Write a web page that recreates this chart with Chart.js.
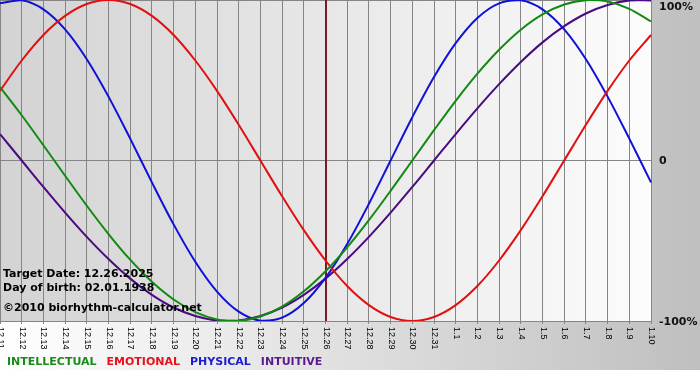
<!DOCTYPE html>
<html>
<head>
<meta charset="utf-8">
<script src="https://cdn.jsdelivr.net/npm/chart.js@4/dist/chart.umd.min.js"></script>
<style>
  html, body { margin: 0; padding: 0; background: #fff; }
  canvas { display: block; }
</style>
</head>
<body>
<canvas id="bio" width="700" height="380"></canvas>
<script>
// ===== Data =====
const dayLabels = ['12.11', '12.12', '12.13', '12.14', '12.15', '12.16', '12.17', '12.18', '12.19', '12.20',
  '12.21', '12.22', '12.23', '12.24', '12.25', '12.26', '12.27', '12.28', '12.29', '12.30', '12.31',
  '1.1', '1.2', '1.3', '1.4', '1.5', '1.6', '1.7', '1.8', '1.9', '1.10'];

const intellectual = [45.8, 28.2, 9.5, -9.5, -28.2, -45.8, -61.8, -75.6, -86.6, -94.5, -99.0, -99.9,
  -97.2, -91.0, -81.5, -69.0, -54.1, -37.2, -18.9, 0, 18.9, 37.2, 54.1, 69.0, 81.5, 91.0, 97.2,
  99.9, 99.0, 94.5, 86.6];
const emotional = [43.4, 62.3, 78.2, 90.1, 97.5, 100, 97.5, 90.1, 78.2, 62.3, 43.4, 22.3, 0, -22.3,
  -43.4, -62.3, -78.2, -90.1, -97.5, -100, -97.5, -90.1, -78.2, -62.3, -43.4, -22.3, 0, 22.3, 43.4,
  62.3, 78.2];
const physical = [97.9, 99.8, 94.2, 81.7, 63.1, 39.8, 13.6, -13.6, -39.8, -63.1, -81.7, -94.2, -99.8,
  -97.9, -88.8, -73.1, -52.0, -27.0, 0, 27.0, 52.0, 73.1, 88.8, 97.9, 99.8, 94.2, 81.7, 63.1, 39.8,
  13.6, -13.6];
const intuitive = [16.5, 0, -16.5, -32.5, -47.6, -61.4, -73.6, -83.7, -91.6, -96.9, -99.7, -99.7,
  -96.9, -91.6, -83.7, -73.6, -61.4, -47.6, -32.5, -16.5, 0, 16.5, 32.5, 47.6, 61.4, 73.6, 83.7,
  91.6, 96.9, 99.7, 99.7];

const seriesNames = ['INTELLECTUAL', 'EMOTIONAL', 'PHYSICAL', 'INTUITIVE'];
const infoLines = ['Target Date: 12.26.2025', 'Day of birth: 02.01.1938', '\u00a92010 biorhythm-calculator.net'];
const targetDay = '12.26';

const GRID = '#858585';
const BOLD = 'bold 11px "DejaVu Sans", Verdana, sans-serif';

// backgrounds, target line, all the text
const bioPlugin = {
  id: 'bio',
  beforeDraw(chart) {
    const { ctx, chartArea: a, width, height } = chart;
    ctx.save();
    const outer = ctx.createLinearGradient(0, 0, width, 0);
    outer.addColorStop(0, '#ffffff');
    outer.addColorStop(1, '#bfbfbf');
    ctx.fillStyle = outer;
    ctx.fillRect(0, 0, width, height);
    ctx.fillStyle = '#ffffff';
    ctx.fillRect(0, 370, width, height - 370);

    const inner = ctx.createLinearGradient(a.left, 0, a.right, 0);
    inner.addColorStop(0, '#d3d3d3');
    inner.addColorStop(1, '#fcfcfc');
    ctx.fillStyle = inner;
    ctx.fillRect(a.left, a.top, a.right - a.left, a.bottom - a.top);
    ctx.restore();
  },
  beforeDatasetsDraw(chart) {
    const { ctx, chartArea: a, scales } = chart;
    const x = Math.round(scales.x.getPixelForValue(dayLabels.indexOf(targetDay)));
    ctx.save();
    ctx.fillStyle = '#7c1c1c';
    ctx.fillRect(x - 1, a.top, 2, a.bottom - a.top);
    ctx.restore();
  },
  afterDraw(chart) {
    const { ctx, chartArea: a, scales } = chart;
    ctx.save();

    // x tick labels, turned clockwise
    ctx.font = '9px "Liberation Sans", Arial, sans-serif';
    ctx.fillStyle = '#000';
    ctx.textAlign = 'left';
    ctx.textBaseline = 'middle';
    dayLabels.forEach((lab, i) => {
      const x = scales.x.getPixelForValue(i);
      ctx.save();
      ctx.translate(x + 0.5, a.bottom + 6);
      ctx.rotate(Math.PI / 2);
      ctx.fillText(lab, 0, 0);
      ctx.restore();
    });

    // y tick labels
    ctx.font = BOLD;
    ctx.fillStyle = '#111';
    scales.y.ticks.forEach(t => {
      const y = Math.max(scales.y.getPixelForValue(t.value) + 1, 7);
      ctx.fillText(t.value === 0 ? '0' : t.value + '%', a.right + 8, y);
    });

    // info block
    ctx.textBaseline = 'alphabetic';
    ctx.fillStyle = '#000';
    ctx.fillText(infoLines[0], 3, 277);
    ctx.fillText(infoLines[1], 3, 291);
    ctx.fillText(infoLines[2], 3, 311);

    // legend
    let lx = 7;
    chart.data.datasets.forEach(ds => {
      ctx.fillStyle = ds.textColor;
      ctx.fillText(ds.label, lx, 365);
      lx += ctx.measureText(ds.label).width + 10;
    });
    ctx.restore();
  }
};

function makeSet(label, data, color, textColor) {
  return {
    label,
    data,
    borderColor: color,
    textColor,
    borderWidth: 2,
    pointRadius: 0,
    tension: 0.33,
    fill: false,
  };
}

new Chart(document.getElementById('bio'), {
  type: 'line',
  data: {
    labels: dayLabels,
    datasets: [
      makeSet(seriesNames[0], intellectual, '#128a12', '#1a8a1a'),
      makeSet(seriesNames[1], emotional, '#e01010', '#e8101a'),
      makeSet(seriesNames[2], physical, '#1010d8', '#1c1cd0'),
      makeSet(seriesNames[3], intuitive, '#4a0a80', '#5a1a8c'),
    ],
  },
  options: {
    responsive: false,
    animation: false,
    layout: { padding: 0 },
    plugins: {
      legend: { display: false },
      tooltip: { enabled: false },
    },
    scales: {
      x: {
        type: 'category',
        offset: false,
        ticks: { display: false },
        grid: { color: GRID, drawTicks: true, tickLength: 3 },
        border: { color: GRID },
        afterFit: (s) => { s.height = 59; },
      },
      y: {
        position: 'right',
        min: -100,
        max: 100,
        ticks: { display: false, stepSize: 100 },
        grid: { color: GRID, drawTicks: false },
        border: { color: GRID },
        afterFit: (s) => { s.width = 49; },
      },
    },
  },
  plugins: [bioPlugin],
});
</script>
</body>
</html>
